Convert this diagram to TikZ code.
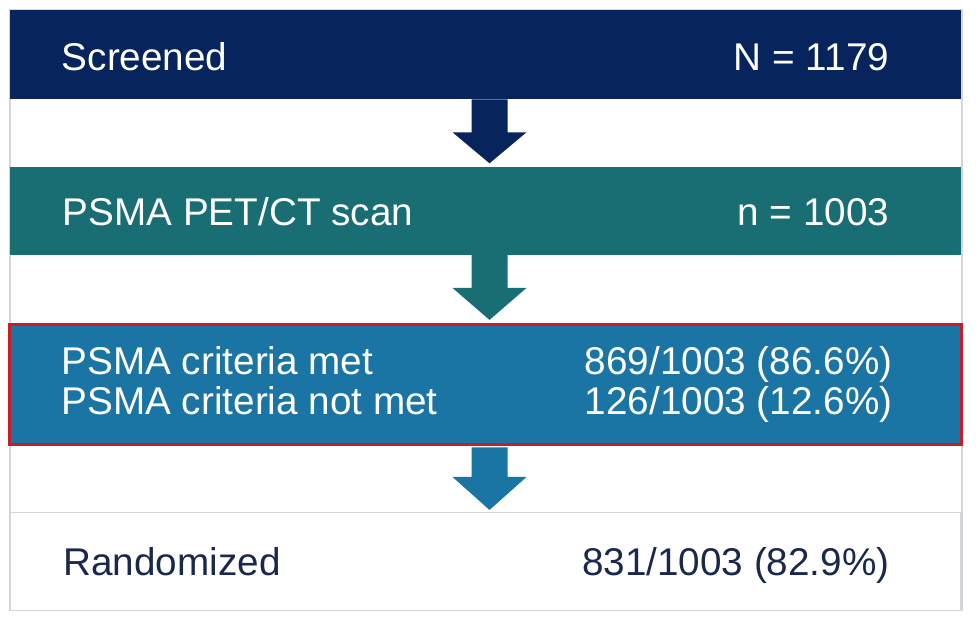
\documentclass[tikz,border=0pt]{standalone}
\usepackage{fontspec}
\setmainfont{Liberation Sans}
\usetikzlibrary{positioning}
\usetikzlibrary{calc}

\definecolor{screennavy}{RGB}{8,36,92}
\definecolor{scanteal}{RGB}{24,110,114}
\definecolor{criteriablue}{RGB}{26,116,164}
\definecolor{markred}{RGB}{200,28,38}
\definecolor{framegray}{RGB}{210,214,220}
\definecolor{randtext}{RGB}{25,40,75}

\tikzset{
  stagebox/.style={rectangle, inner sep=0pt, minimum width=23.775cm},
  stagetext/.style={font=\fontsize{27.5}{33}\selectfont, text=white, inner sep=0pt},
}

\begin{document}
\begin{tikzpicture}[x=0.025cm,y=-0.025cm]
\useasboundingbox (0,0) rectangle (976,620);
\draw[framegray,line width=1pt] (10,10) rectangle (962,610);

% stages
\node[stagebox,fill=screennavy,minimum height=2.225cm] (scr) at (485.5,54.5) {};
\node[stagebox,fill=scanteal,minimum height=2.2cm,below=1.675cm of scr] (pet) {};
\node[stagebox,fill=criteriablue,draw=markred,line width=0.075cm,minimum height=3.0cm,below=1.7cm of pet] (crit) {};
\node[stagebox,fill=white,draw=framegray,line width=1pt,minimum height=2.45cm,below=1.65cm of crit] (rand) {};

% labels
\node[stagetext,anchor=base west] (scrl) at ($(scr.west)+(52,16)$) {Screened};
\node[stagetext,anchor=base east] (scrn) at ($(scr.east)+(-72,16)$) {N = 1179};
\node[stagetext,anchor=base west] (petl) at ($(pet.west)+(53,15)$) {PSMA PET/CT scan};
\node[stagetext,anchor=base east] (petn) at ($(pet.east)+(-72,15)$) {n = 1003};
\node[stagetext,anchor=base west] (metl) at ($(crit.west)+(53,-10)$) {PSMA criteria met};
\node[stagetext,anchor=base east] (metn) at ($(crit.east)+(-70,-10)$) {869/1003 (86.6\%)};
\node[stagetext,anchor=base west] (notl) at ($(crit.west)+(53,30)$) {PSMA criteria not met};
\node[stagetext,anchor=base east] (notn) at ($(crit.east)+(-70,30)$) {126/1003 (12.6\%)};
\node[stagetext,text=randtext,anchor=base west] (randl) at ($(rand.west)+(54,14)$) {Randomized};
\node[stagetext,text=randtext,anchor=base east] (randn) at ($(rand.east)+(-72,14)$) {831/1003 (82.9\%)};

% block arrows
\fill[screennavy] ($(scr.south)+(-14,0)$) -- ($(scr.south)+(22,0)$) -- ($(scr.south)+(22,33)$) -- ($(scr.south)+(41,33)$)
  -- ($(pet.north)+(4,-3)$) -- ($(scr.south)+(-33,33)$) -- ($(scr.south)+(-14,33)$) -- cycle;
\fill[scanteal] ($(pet.south)+(-14,0)$) -- ($(pet.south)+(22,0)$) -- ($(pet.south)+(22,33)$) -- ($(pet.south)+(41,33)$)
  -- ($(crit.north)+(4,-3)$) -- ($(pet.south)+(-33,33)$) -- ($(pet.south)+(-14,33)$) -- cycle;
\fill[criteriablue] ($(crit.south)+(-14,1.5)$) -- ($(crit.south)+(22,1.5)$) -- ($(crit.south)+(22,31)$) -- ($(crit.south)+(41,31)$)
  -- ($(rand.north)+(4,-2)$) -- ($(crit.south)+(-33,31)$) -- ($(crit.south)+(-14,31)$) -- cycle;

\end{tikzpicture}
\end{document}
